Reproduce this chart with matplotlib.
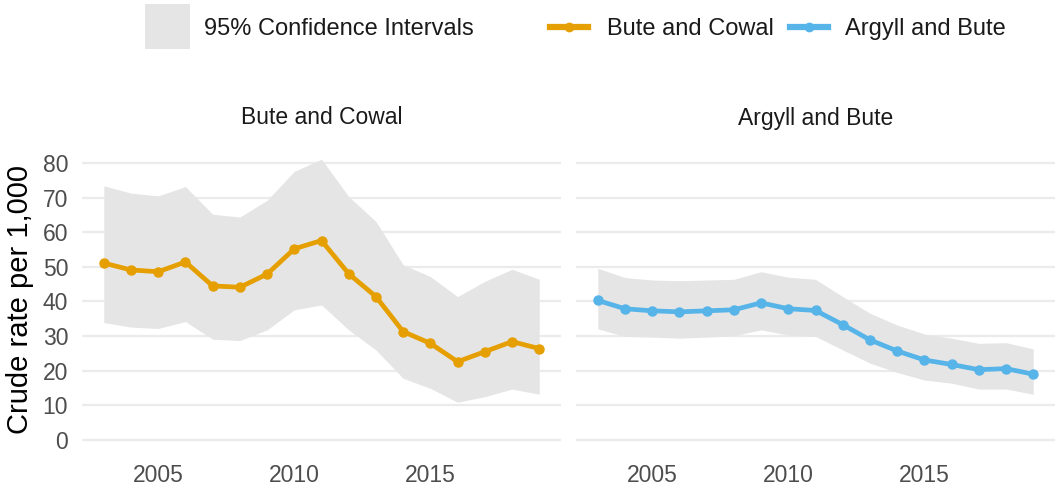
import matplotlib
matplotlib.use("Agg")
import matplotlib.pyplot as plt
from matplotlib.patches import Rectangle
from matplotlib.lines import Line2D

plt.rcParams['font.family'] = ['Liberation Sans', 'DejaVu Sans']

# data
years = list(range(2003, 2020))

bute_rate = [51.1, 49.1, 48.6, 51.4, 44.5, 44.1, 47.9, 55.2, 57.6, 48.0, 41.4, 31.3, 27.9, 22.6, 25.5, 28.4, 26.4]
bute_upper = [73.4, 71.3, 70.5, 73.2, 65.2, 64.4, 69.2, 77.6, 81.1, 70.3, 63.1, 50.6, 47.2, 41.4, 45.8, 49.3, 46.4]
bute_lower = [33.9, 32.6, 32.2, 34.2, 29.1, 28.7, 31.8, 37.6, 39.0, 31.8, 26.0, 17.8, 14.9, 10.9, 12.5, 14.7, 13.2]

argyll_rate = [40.3, 37.9, 37.3, 37.0, 37.3, 37.6, 39.6, 37.9, 37.4, 33.3, 28.9, 25.7, 23.1, 21.8, 20.3, 20.6, 19.0]
argyll_upper = [49.6, 46.9, 46.2, 46.0, 46.2, 46.4, 48.6, 47.0, 46.4, 41.4, 36.6, 33.2, 30.6, 29.4, 27.9, 28.1, 26.3]
argyll_lower = [32.1, 29.9, 29.7, 29.4, 29.7, 30.1, 31.8, 30.3, 29.9, 26.0, 22.2, 19.5, 17.3, 16.4, 14.7, 14.7, 13.2]

panels = [
    ("Bute and Cowal", bute_rate, bute_lower, bute_upper, "#E69F00"),
    ("Argyll and Bute", argyll_rate, argyll_lower, argyll_upper, "#56B4E9"),
]

W, H = 1059, 491
fig = plt.figure(figsize=(W / 100, H / 100), dpi=100)

ci_col = "#E5E5E5"
grid_col = "#EBEBEB"
tick_col = "#4D4D4D"

# panel pixel boxes (left, right), top=145, bottom=454
boxes = [(82, 561), (576, 1055)]
top_px, bot_px = 145, 454

for i, (name, rate, lo, hi, col) in enumerate(panels):
    x0, x1 = boxes[i]
    ax = fig.add_axes([x0 / W, (H - bot_px) / H, (x1 - x0) / W, (bot_px - top_px) / H])
    ax.fill_between(years, lo, hi, color=ci_col, lw=0, zorder=2)
    ax.plot(years, rate, color=col, lw=3.4, marker="o", ms=6.5, zorder=3,
            solid_joinstyle="round")
    ax.set_xlim(2002.2, 2019.8)
    ax.set_ylim(-4.06, 85.2)
    ax.set_yticks(range(0, 81, 10))
    ax.set_xticks([2005, 2010, 2015])
    ax.grid(axis="y", color=grid_col, lw=1.6, zorder=0)
    ax.grid(axis="x", visible=False)
    for s in ax.spines.values():
        s.set_visible(False)
    ax.tick_params(length=0, labelsize=16.5, labelcolor=tick_col)
    ax.tick_params(axis="x", pad=7)
    ax.tick_params(axis="y", pad=10)
    if i == 1:
        ax.set_yticklabels([])
    else:
        ax.set_ylabel("Crude rate per 1,000", fontsize=21, color="black", labelpad=6)
    fig.text((x0 + x1) / 2 / W, 1 - 118 / H, name, ha="center", va="center",
             fontsize=16.5, color="#1A1A1A")

# legend at the top
fig.patches.append(Rectangle((145 / W, 1 - 49 / H), 45 / W, 45 / H,
                             transform=fig.transFigure, color=ci_col, lw=0))
ty = 1 - 29 / H
fig.text(204 / W, ty, "95% Confidence Intervals", ha="left", va="center",
         fontsize=17, color="#1A1A1A")
leg_items = [(550, 588, 607, "Bute and Cowal", "#E69F00"),
             (790, 828, 845, "Argyll and Bute", "#56B4E9")]
for lx0, lx1, tx, label, col in leg_items:
    fig.lines.append(Line2D([lx0 / W, lx1 / W], [1 - 27 / H, 1 - 27 / H],
                            transform=fig.transFigure, color=col, lw=4.5))
    fig.lines.append(Line2D([(lx0 + lx1) / 2 / W], [1 - 27 / H], transform=fig.transFigure,
                            color=col, marker="o", ms=6))
    fig.text(tx / W, ty, label, ha="left", va="center", fontsize=17, color="#1A1A1A")

fig.savefig("out.png", dpi=100)
